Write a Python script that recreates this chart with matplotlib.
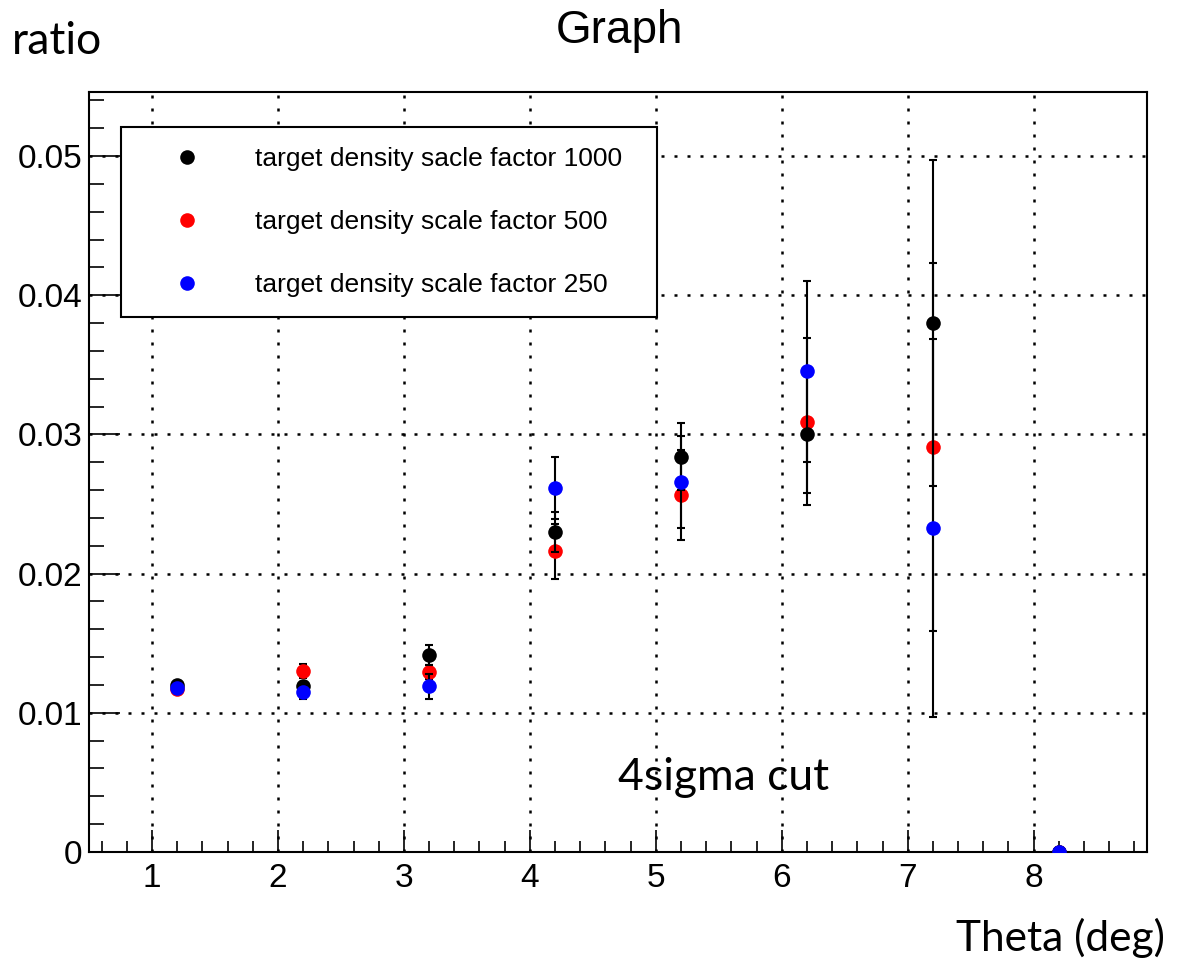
import matplotlib.pyplot as plt
from matplotlib.ticker import MultipleLocator

# Data
theta = [1.2, 2.2, 3.2, 4.2, 5.2, 6.2, 7.2, 8.2]

ratio_1000 = [0.0120, 0.0119, 0.01415, 0.0230, 0.0284, 0.0300, 0.0380, 0.0]
err_1000 = [0.0002, 0.0003, 0.0007, 0.00145, 0.0024, 0.0042, 0.0117, 0.0]

ratio_500 = [0.0117, 0.0130, 0.0129, 0.0216, 0.02565, 0.0309, 0.0291, 0.0]
err_500 = [0.0002, 0.0005, 0.0005, 0.0020, 0.0032, 0.0060, 0.0132, 0.0]

ratio_250 = [0.01178, 0.0115, 0.0119, 0.02615, 0.02658, 0.03455, 0.02328, 0.0]
err_250 = [0.0002, 0.0005, 0.0009, 0.0022, 0.0033, 0.0065, 0.0136, 0.0]

labels = [
    "target density sacle factor 1000",
    "target density scale factor 500",
    "target density scale factor 250",
]

plt.rcParams["font.family"] = ["Liberation Sans", "DejaVu Sans"]

fig = plt.figure(figsize=(11.8, 9.6), dpi=100)
ax = fig.add_axes([89 / 1180, 108 / 960, 1058 / 1180, 760 / 960])

ekw = dict(fmt="o", ms=10.5, ecolor="black", elinewidth=1.5, capsize=3, capthick=1.5, mec="none")
r = ax.errorbar(theta, ratio_500, yerr=err_500, color="red", zorder=3, **ekw)
k = ax.errorbar(theta, ratio_1000, yerr=err_1000, color="black", zorder=4, **ekw)
b = ax.errorbar(theta, ratio_250, yerr=err_250, color="blue", zorder=5, **ekw)

ax.set_xlim(0.5, 8.9)
ax.set_ylim(0, 0.0546)

ax.xaxis.set_major_locator(MultipleLocator(1))
ax.xaxis.set_minor_locator(MultipleLocator(0.2))
ax.yaxis.set_major_locator(MultipleLocator(0.01))
ax.yaxis.set_minor_locator(MultipleLocator(0.002))
ax.yaxis.set_major_formatter(plt.FuncFormatter(lambda v, p: "0" if v == 0 else f"{v:.2f}"))

ax.tick_params(which="both", direction="in", top=False, right=False, width=1.2, labelsize=24)
ax.tick_params(axis="x", which="major", length=16, pad=8)
ax.tick_params(axis="x", which="minor", length=8)
ax.tick_params(axis="y", which="major", length=22, pad=5)
ax.tick_params(axis="y", which="minor", length=11)
for s in ax.spines.values():
    s.set_linewidth(1.5)

ax.grid(True, which="major", color="black", linestyle=(0, (1.2, 4)), linewidth=1.8)
ax.set_axisbelow(True)

leg = ax.legend(
    [k[0], r[0], b[0]], labels,
    loc="upper left",
    bbox_to_anchor=(121 / 1180, 1 - 127 / 960 - 0.4, 536 / 1180, 0.4),
    bbox_transform=fig.transFigure,
    mode="expand", borderaxespad=0, fontsize=19, numpoints=1,
    fancybox=False, edgecolor="black", framealpha=1,
    borderpad=0.76, labelspacing=1.48, handlelength=3.48, handletextpad=0.83,
)
leg.get_frame().set_linewidth(1.5)
leg.set_zorder(10)

fig.text(619 / 1180, 1 - 31 / 960, "Graph", ha="center", va="center", fontsize=33)
fig.text(12 / 1180, 1 - 41 / 960, "ratio", ha="left", va="center", fontsize=32, family=["Lato", "DejaVu Sans"])
fig.text(1165 / 1180, 1 - 938 / 960, "Theta (deg)", ha="right", va="center", fontsize=30.5, family=["Lato", "DejaVu Sans"])
ax.text((618 - 89) / 1058, (852 - 777) / 760, "4sigma cut", transform=ax.transAxes,
        ha="left", va="center", fontsize=32, family=["Lato", "DejaVu Sans"])

fig.savefig("out.png", dpi=100)
